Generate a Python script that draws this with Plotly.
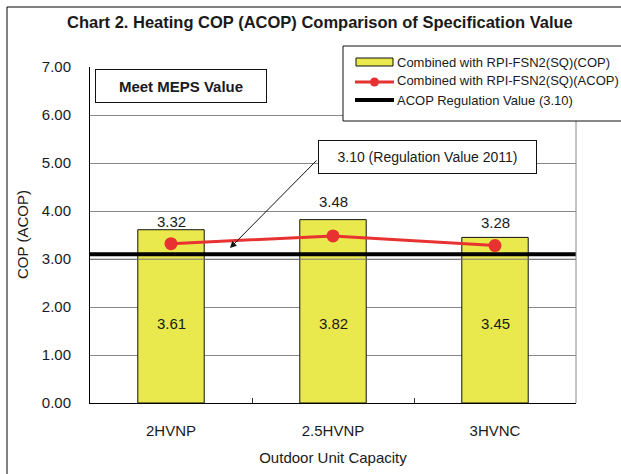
"""Heating COP (ACOP) comparison chart."""

import plotly.graph_objects as go

categories = ["2HVNP", "2.5HVNP", "3HVNC"]
cop_values = [3.61, 3.82, 3.45]
acop_values = [3.32, 3.48, 3.28]
regulation_value = 3.10

series_names = [
    "Combined with RPI-FSN2(SQ)(COP)",
    "Combined with RPI-FSN2(SQ)(ACOP)",
    "ACOP Regulation Value (3.10)",
]
y_ticks = [0, 1, 2, 3, 4, 5, 6, 7]
y_tick_labels = ["0.00", "1.00", "2.00", "3.00", "4.00", "5.00", "6.00", "7.00"]

# 스타일 값 (데이터 아님)
W, H = 621, 474
L, R, T, B = 90, 576, 67, 403
YELLOW = "#e9e84d"
RED = "#e83232"
TXT = "#1a1a1a"
FONT = "Liberation Sans, Arial, sans-serif"
acop_label_shift = [22, 34, 23]


def px(x):
    return (x - L) / (R - L)


def py(y):
    return (B - y) / (B - T)


def note(x, y, text, **kw):
    d = dict(xref="paper", yref="paper", x=px(x), y=py(y), text=text,
             showarrow=False, xanchor="center", yanchor="middle")
    d.update(kw)
    return d


fig = go.Figure()
fig.add_trace(go.Bar(
    x=categories, y=cop_values, name=series_names[0],
    width=0.41, marker={"color": YELLOW, "line": {"color": "#111", "width": 1}},
    hoverinfo="x+y",
))
fig.add_trace(go.Scatter(
    x=categories, y=acop_values, name=series_names[1],
    mode="lines+markers",
    line={"color": RED, "width": 3},
    marker={"color": RED, "size": 13},
))

shapes = []
annotations = []

# 규제값 라인 (굵은 검정 + 아래 얇은 회색)
shapes.append(dict(type="line", xref="paper", yref="y", x0=0, x1=1,
                   y0=regulation_value, y1=regulation_value,
                   line={"color": "#000", "width": 4}))
shapes.append(dict(type="line", xref="paper", yref="y", x0=0, x1=1,
                   ysizemode="pixel", yanchor=regulation_value, y0=-5, y1=-5,
                   line={"color": "#777", "width": 1}))
# 플롯 우측 테두리
shapes.append(dict(type="line", xref="paper", yref="paper", x0=1, x1=1, y0=0, y1=1,
                   line={"color": "#888", "width": 1}))
# 외곽 프레임 (좌, 상)
shapes.append(dict(type="line", xref="paper", yref="paper",
                   x0=px(7), x1=px(7), y0=py(7), y1=py(480),
                   line={"color": "#000", "width": 1}))
shapes.append(dict(type="line", xref="paper", yref="paper",
                   x0=px(7), x1=px(625), y0=py(7), y1=py(7),
                   line={"color": "#000", "width": 1}))

# 막대 내부 값 라벨
for c, v in zip(categories, cop_values):
    annotations.append(dict(x=c, y=0, yshift=80, text=f"{v:.2f}", showarrow=False,
                            font={"size": 15, "color": TXT}))
# ACOP 값 라벨
for c, v, s in zip(categories, acop_values, acop_label_shift):
    annotations.append(dict(x=c, y=v, yshift=s, text=f"{v:.2f}", showarrow=False,
                            font={"size": 15, "color": TXT}))

# Meet MEPS Value 박스
annotations.append(note(181, 86, "<b>Meet MEPS Value</b>",
                        width=166, height=28, bgcolor="white",
                        bordercolor="#111", borderwidth=1, borderpad=2,
                        font={"size": 15, "color": TXT}))

# 규제값 콜아웃
annotations.append(note(427, 157, f"{regulation_value:.2f} (Regulation Value 2011)",
                        width=213, height=28, bgcolor="white",
                        bordercolor="#111", borderwidth=1, borderpad=2,
                        font={"size": 14, "color": TXT}))
annotations.append(dict(xref="paper", yref="paper", x=px(230), y=py(248),
                        ax=88, ay=-89, text="", showarrow=True,
                        arrowhead=2, arrowsize=1.3, arrowwidth=1, arrowcolor="#111"))

# 수동 범례
shapes.append(dict(type="rect", xref="paper", yref="paper",
                   x0=px(343), x1=px(622), y0=py(121), y1=py(46),
                   line={"color": "#111", "width": 1}, fillcolor="white", layer="above"))
shapes.append(dict(type="rect", xref="paper", yref="paper",
                   x0=px(356), x1=px(393), y0=py(66), y1=py(58),
                   line={"color": "#111", "width": 1}, fillcolor=YELLOW, layer="above"))
shapes.append(dict(type="line", xref="paper", yref="paper",
                   x0=px(355), x1=px(394), y0=py(82), y1=py(82),
                   line={"color": RED, "width": 3}, layer="above"))
shapes.append(dict(type="circle", xref="paper", yref="paper",
                   x0=px(370), x1=px(379), y0=py(86.5), y1=py(77.5),
                   line={"color": RED, "width": 0}, fillcolor=RED, layer="above"))
shapes.append(dict(type="line", xref="paper", yref="paper",
                   x0=px(355), x1=px(394), y0=py(100), y1=py(100),
                   line={"color": "#000", "width": 4}, layer="above"))
for name, yy in zip(series_names, [62, 81, 100]):
    annotations.append(note(395, yy, name, xanchor="left",
                            font={"size": 13, "color": TXT}))

# 제목 / 축 제목
annotations.append(note(320, 22,
                        "<b>Chart 2. Heating COP (ACOP) Comparison of Specification Value</b>",
                        font={"size": 16.5, "color": TXT}))
annotations.append(note(22, 235, "COP (ACOP)", textangle=-90,
                        font={"size": 15, "color": TXT}))

fig.update_layout(
    width=W, height=H,
    margin={"l": L, "r": W - R, "t": T, "b": H - B, "autoexpand": False},
    paper_bgcolor="white", plot_bgcolor="white",
    font={"family": FONT, "color": TXT},
    showlegend=False, bargap=0.59,
    shapes=shapes, annotations=annotations,
    xaxis={
        "showline": True, "linecolor": "#000", "linewidth": 1,
        "ticks": "inside", "tickson": "boundaries", "ticklen": 5, "tickcolor": "#333",
        "tickfont": {"size": 15}, "ticklabelstandoff": 14,
        "title": {"text": "Outdoor Unit Capacity", "font": {"size": 15}, "standoff": 14},
        "showgrid": False, "automargin": False,
    },
    yaxis={
        "range": [0, 7], "tickvals": y_ticks, "ticktext": y_tick_labels,
        "showline": True, "linecolor": "#000", "linewidth": 1,
        "showgrid": True, "gridcolor": "#888", "gridwidth": 1,
        "ticks": "", "tickfont": {"size": 15}, "ticklabelstandoff": 15,
        "zeroline": False, "automargin": False,
    },
)

fig.write_html("out.html", config={"displayModeBar": False},
               post_script="document.body.style.margin='0px';")
